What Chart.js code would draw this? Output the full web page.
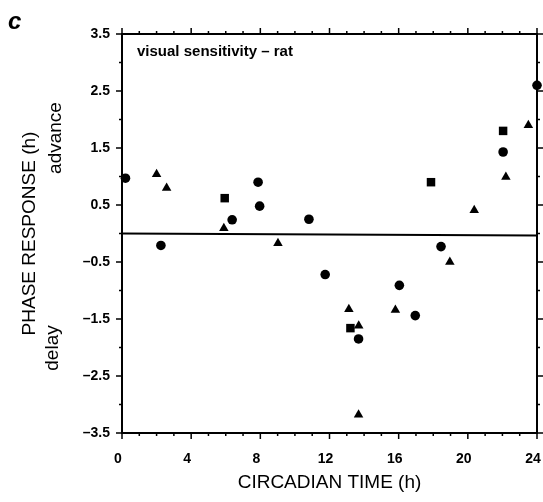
<!DOCTYPE html>
<html>
<head>
<meta charset="utf-8">
<title>Phase response - visual sensitivity</title>
<script src="https://cdn.jsdelivr.net/npm/chart.js@4.4.1/dist/chart.umd.min.js"></script>
<style>
  html, body { margin: 0; padding: 0; background: #fff; }
  #wrap { width: 543px; height: 502px; }
</style>
</head>
<body>
<div id="wrap"><canvas id="prc" width="543" height="502"></canvas></div>
<script>
// values (circadian time in h, phase shift in h)
const circleX = [0.2, 2.25, 6.37, 7.87, 7.96, 10.81, 11.75, 13.68, 16.04, 16.96, 18.45, 22.04, 24.0];
const circleY = [0.97, -0.21, 0.24, 0.90, 0.48, 0.25, -0.72, -1.85, -0.91, -1.44, -0.23, 1.43, 2.6];

const triangleX = [2.0, 2.58, 5.89, 9.02, 13.12, 13.69, 13.68, 15.81, 18.96, 20.37, 22.2, 23.5];
const triangleY = [1.04, 0.80, 0.09, -0.17, -1.33, -1.62, -3.18, -1.34, -0.50, 0.41, 0.99, 1.90];

const squareX = [5.94, 13.21, 17.87, 22.04];
const squareY = [0.62, -1.66, 0.90, 1.80];

// axes
const xTickValues = [0, 4, 8, 12, 16, 20, 24];
const yTickValues = [3.5, 2.5, 1.5, 0.5, -0.5, -1.5, -2.5, -3.5];
const yTickLabels = ["3.5", "2.5", "1.5", "0.5", "\u20130.5", "\u20131.5", "\u20132.5", "\u20133.5"];

function toPoints(xs, ys) {
  return xs.map((x, i) => ({ x: x, y: ys[i] }));
}

// frame, minor/major ticks, zero line and the extra labels
const framePlugin = {
  id: "frame",
  beforeDatasetsDraw(chart) {
    const ctx = chart.ctx;
    const a = chart.chartArea;
    const xs = chart.scales.x, ys = chart.scales.y;
    ctx.save();
    ctx.strokeStyle = "#000";
    ctx.lineWidth = 2;
    ctx.strokeRect(a.left, a.top, a.right - a.left, a.bottom - a.top);

    ctx.lineWidth = 1.5;
    ctx.beginPath();
    for (let h = 0; h <= 24; h++) {
      const px = xs.getPixelForValue(h);
      const len = h % 4 === 0 ? 6 : 3;
      ctx.moveTo(px, a.bottom); ctx.lineTo(px, a.bottom + len);
      ctx.moveTo(px, a.top); ctx.lineTo(px, a.top - len);
    }
    for (let k = 0; k <= 14; k++) {
      const v = 3.5 - k * 0.5;
      const py = ys.getPixelForValue(v);
      const len = k % 2 === 0 ? 6 : 3;
      ctx.moveTo(a.left, py); ctx.lineTo(a.left - len, py);
      ctx.moveTo(a.right, py); ctx.lineTo(a.right + len, py);
    }
    ctx.stroke();

    // zero line
    const y0 = ys.getPixelForValue(0);
    ctx.lineWidth = 2;
    ctx.beginPath();
    ctx.moveTo(a.left, y0);
    ctx.lineTo(a.right, y0 + 2);
    ctx.stroke();

    ctx.fillStyle = "#000";
    ctx.font = "bold 15px 'Liberation Sans', Arial, sans-serif";
    ctx.textAlign = "left";
    ctx.textBaseline = "middle";
    ctx.fillText("visual sensitivity \u2013 rat", a.left + 15, 52);

    ctx.font = "italic bold 24px 'Liberation Sans', Arial, sans-serif";
    ctx.textBaseline = "top";
    ctx.fillText("c", 8, 10);

    ctx.font = "19px 'Liberation Sans', Arial, sans-serif";
    ctx.textAlign = "center";
    ctx.textBaseline = "middle";
    ctx.translate(56, 138);
    ctx.rotate(-Math.PI / 2);
    ctx.fillText("advance", 0, 0);
    ctx.rotate(Math.PI / 2);
    ctx.translate(-3, 348 - 138);
    ctx.rotate(-Math.PI / 2);
    ctx.fillText("delay", 0, 0);
    ctx.restore();
  }
};

const ctx = document.getElementById("prc").getContext("2d");
const prcChart = new Chart(ctx, {
  type: "scatter",
  data: {
    datasets: [
      {
        label: "circles",
        data: toPoints(circleX, circleY),
        pointStyle: "circle",
        pointRadius: 4.8,
        backgroundColor: "#000",
        borderColor: "#000",
        borderWidth: 0,
        clip: false
      },
      {
        label: "triangles",
        data: toPoints(triangleX, triangleY),
        pointStyle: "triangle",
        pointRadius: 5.5,
        backgroundColor: "#000",
        borderColor: "#000",
        borderWidth: 0,
        clip: false
      },
      {
        label: "squares",
        data: toPoints(squareX, squareY),
        pointStyle: "rect",
        pointRadius: 6,
        backgroundColor: "#000",
        borderColor: "#000",
        borderWidth: 0,
        clip: false
      }
    ]
  },
  options: {
    responsive: false,
    animation: false,
    events: [],
    layout: { padding: { top: 34, right: 5, left: 0, bottom: 0 } },
    plugins: {
      legend: { display: false },
      tooltip: { enabled: false }
    },
    scales: {
      x: {
        type: "linear",
        min: 0,
        max: 24,
        afterBuildTicks(scale) {
          scale.ticks = xTickValues.map(v => ({ value: v }));
        },
        afterFit(scale) {
          scale.height = 69;
          scale.paddingLeft = 0;
          scale.paddingRight = 0;
        },
        ticks: {
          color: "#000",
          padding: 18,
          labelOffset: -4,
          maxRotation: 0,
          font: { family: "'Liberation Sans', Arial, sans-serif", size: 14, weight: "bold" }
        },
        grid: { display: false, drawTicks: false },
        border: { display: false },
        title: {
          display: true,
          text: "CIRCADIAN TIME (h)",
          color: "#000",
          padding: { top: 2, bottom: 8 },
          font: { family: "'Liberation Sans', Arial, sans-serif", size: 19 }
        }
      },
      y: {
        type: "linear",
        min: -3.5,
        max: 3.5,
        afterBuildTicks(scale) {
          scale.ticks = yTickValues.map(v => ({ value: v }));
        },
        afterFit(scale) {
          scale.width = 122;
          scale.paddingTop = 0;
          scale.paddingBottom = 0;
        },
        ticks: {
          color: "#000",
          padding: 12,
          callback: (val, i) => yTickLabels[i],
          font: { family: "'Liberation Sans', Arial, sans-serif", size: 14, weight: "bold" }
        },
        grid: { display: false, drawTicks: false },
        border: { display: false },
        title: {
          display: true,
          text: "PHASE RESPONSE (h)",
          color: "#000",
          padding: { top: 18, bottom: 0 },
          font: { family: "'Liberation Sans', Arial, sans-serif", size: 19 }
        }
      }
    }
  },
  plugins: [framePlugin]
});
</script>
</body>
</html>
